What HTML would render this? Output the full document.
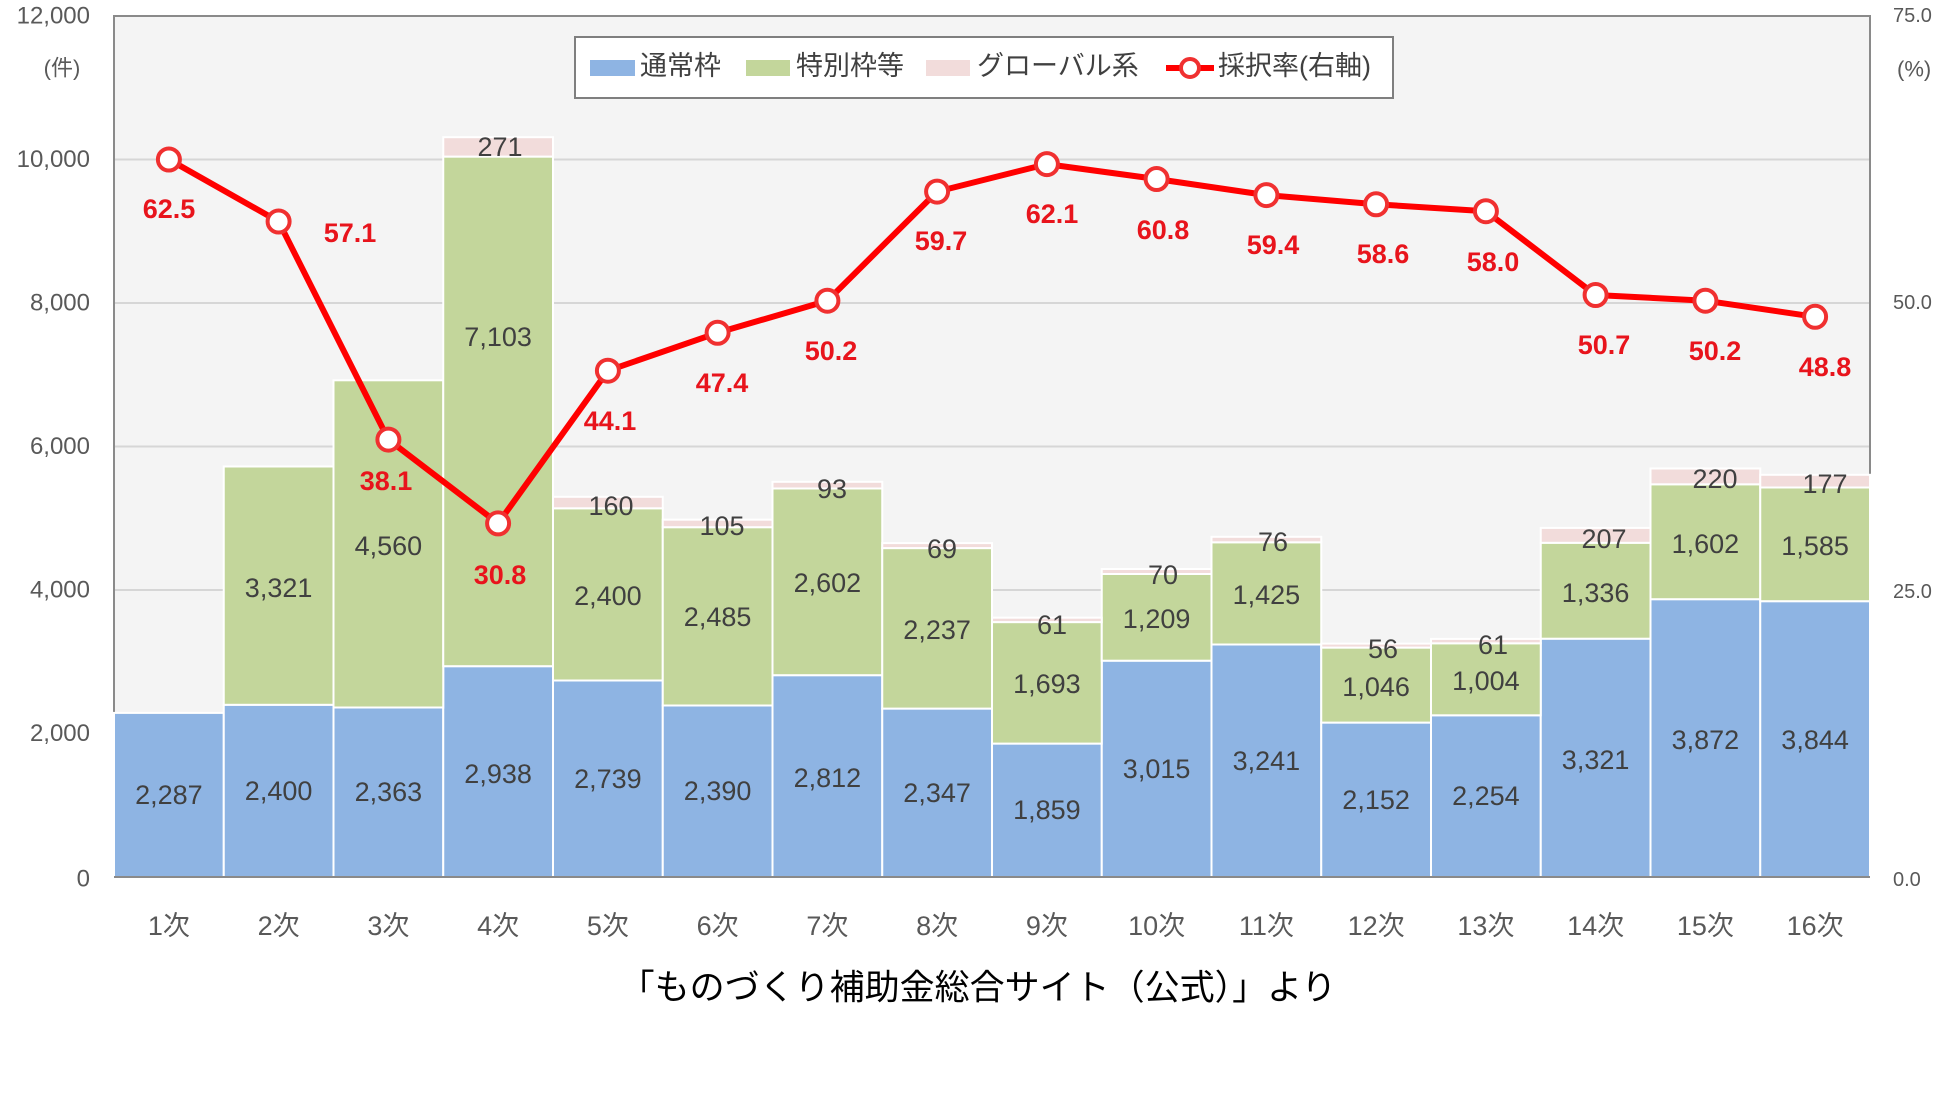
<!DOCTYPE html>
<html><head><meta charset="utf-8"><style>
html,body{margin:0;padding:0;background:#fff;width:1949px;height:1095px;overflow:hidden}
svg{display:block}
text{font-family:"Liberation Sans","Noto Sans CJK JP",sans-serif}
</style></head><body>
<svg width="1949" height="1095" viewBox="0 0 1949 1095" xmlns="http://www.w3.org/2000/svg">
<rect x="114" y="16" width="1756" height="861" fill="#f4f4f4"/>
<g stroke="#d6d6d6" stroke-width="2">
<line x1="114" y1="733.5" x2="1870" y2="733.5"/><line x1="114" y1="590" x2="1870" y2="590"/>
<line x1="114" y1="446.5" x2="1870" y2="446.5"/><line x1="114" y1="303" x2="1870" y2="303"/>
<line x1="114" y1="159.5" x2="1870" y2="159.5"/>
</g>
<rect x="114" y="16" width="1756" height="861" fill="none" stroke="#8a8a8a" stroke-width="2"/>
<g stroke="#fff" stroke-width="2">
<g fill="#8eb4e3">
<rect x="114" y="712.9" width="109.75" height="164.1"/>
<rect x="223.75" y="704.8" width="109.75" height="172.2"/>
<rect x="333.5" y="707.5" width="109.75" height="169.5"/>
<rect x="443.25" y="666.2" width="109.75" height="210.8"/>
<rect x="553" y="680.5" width="109.75" height="196.5"/>
<rect x="662.75" y="705.5" width="109.75" height="171.5"/>
<rect x="772.5" y="675.2" width="109.75" height="201.8"/>
<rect x="882.25" y="708.6" width="109.75" height="168.4"/>
<rect x="992" y="743.6" width="109.75" height="133.4"/>
<rect x="1101.75" y="660.7" width="109.75" height="216.3"/>
<rect x="1211.5" y="644.5" width="109.75" height="232.5"/>
<rect x="1321.25" y="722.6" width="109.75" height="154.4"/>
<rect x="1431" y="715.3" width="109.75" height="161.7"/>
<rect x="1540.75" y="638.7" width="109.75" height="238.3"/>
<rect x="1650.5" y="599.2" width="109.75" height="277.8"/>
<rect x="1760.25" y="601.2" width="109.75" height="275.8"/>
</g>
<g fill="#c3d69b">
<rect x="223.75" y="466.5" width="109.75" height="238.3"/>
<rect x="333.5" y="380.3" width="109.75" height="327.2"/>
<rect x="443.25" y="156.6" width="109.75" height="509.6"/>
<rect x="553" y="508.3" width="109.75" height="172.2"/>
<rect x="662.75" y="527.2" width="109.75" height="178.3"/>
<rect x="772.5" y="488.5" width="109.75" height="186.7"/>
<rect x="882.25" y="548.1" width="109.75" height="160.5"/>
<rect x="992" y="622.1" width="109.75" height="121.5"/>
<rect x="1101.75" y="574" width="109.75" height="86.7"/>
<rect x="1211.5" y="542.3" width="109.75" height="102.2"/>
<rect x="1321.25" y="647.6" width="109.75" height="75"/>
<rect x="1431" y="643.3" width="109.75" height="72"/>
<rect x="1540.75" y="542.8" width="109.75" height="95.9"/>
<rect x="1650.5" y="484.3" width="109.75" height="114.9"/>
<rect x="1760.25" y="487.5" width="109.75" height="113.7"/>
</g>
<g fill="#f2dcdb">
<rect x="443.25" y="137.2" width="109.75" height="19.4"/>
<rect x="553" y="496.8" width="109.75" height="11.5"/>
<rect x="662.75" y="519.7" width="109.75" height="7.5"/>
<rect x="772.5" y="481.8" width="109.75" height="6.7"/>
<rect x="882.25" y="543.1" width="109.75" height="5"/>
<rect x="992" y="617.7" width="109.75" height="4.4"/>
<rect x="1101.75" y="569" width="109.75" height="5"/>
<rect x="1211.5" y="536.8" width="109.75" height="5.5"/>
<rect x="1321.25" y="643.6" width="109.75" height="4"/>
<rect x="1431" y="638.9" width="109.75" height="4.4"/>
<rect x="1540.75" y="527.9" width="109.75" height="14.9"/>
<rect x="1650.5" y="468.5" width="109.75" height="15.8"/>
<rect x="1760.25" y="474.8" width="109.75" height="12.7"/>
</g>
</g>
<line x1="114" y1="877" x2="1870" y2="877" stroke="#8a8a8a" stroke-width="2"/>
<g font-size="27" fill="#404040" text-anchor="middle" dominant-baseline="central">
<text x="168.9" y="795">2,287</text><text x="278.6" y="791">2,400</text><text x="388.4" y="792">2,363</text><text x="498.1" y="774">2,938</text>
<text x="607.9" y="779">2,739</text><text x="717.6" y="791">2,390</text><text x="827.4" y="778">2,812</text><text x="937.1" y="793">2,347</text>
<text x="1046.9" y="810">1,859</text><text x="1156.6" y="769">3,015</text><text x="1266.4" y="761">3,241</text><text x="1376.1" y="800">2,152</text>
<text x="1485.9" y="796">2,254</text><text x="1595.6" y="760">3,321</text><text x="1705.4" y="740">3,872</text><text x="1815.1" y="740">3,844</text>
<text x="278.6" y="588">3,321</text><text x="388.4" y="546">4,560</text><text x="498.1" y="337">7,103</text><text x="607.9" y="596">2,400</text>
<text x="717.6" y="617">2,485</text><text x="827.4" y="583">2,602</text><text x="937.1" y="630">2,237</text><text x="1046.9" y="684">1,693</text>
<text x="1156.6" y="619">1,209</text><text x="1266.4" y="595">1,425</text><text x="1376.1" y="687">1,046</text><text x="1485.9" y="681">1,004</text>
<text x="1595.6" y="593">1,336</text><text x="1705.4" y="544">1,602</text><text x="1815.1" y="546">1,585</text>
<text x="500" y="147">271</text><text x="611" y="506">160</text><text x="722" y="526">105</text><text x="832" y="489">93</text>
<text x="942" y="549">69</text><text x="1052" y="625">61</text><text x="1163" y="575">70</text><text x="1273" y="542">76</text>
<text x="1383" y="649">56</text><text x="1493" y="645">61</text><text x="1604" y="539">207</text><text x="1715" y="479">220</text><text x="1825" y="484">177</text>
</g>
<polyline fill="none" stroke="#ff0000" stroke-width="6" stroke-linejoin="round" points="168.9,159.5 278.6,221.5 388.4,439.6 498.1,523.4 607.9,370.7 717.6,332.8 827.4,300.7 937.1,191.6 1046.9,164.1 1156.6,179 1266.4,195.1 1376.1,204.3 1485.9,211.2 1595.6,295 1705.4,300.7 1815.1,316.8"/>
<g fill="#fff" stroke="#f03030" stroke-width="4">
<circle cx="168.9" cy="159.5" r="11"/><circle cx="278.6" cy="221.5" r="11"/><circle cx="388.4" cy="439.6" r="11"/><circle cx="498.1" cy="523.4" r="11"/>
<circle cx="607.9" cy="370.7" r="11"/><circle cx="717.6" cy="332.8" r="11"/><circle cx="827.4" cy="300.7" r="11"/><circle cx="937.1" cy="191.6" r="11"/>
<circle cx="1046.9" cy="164.1" r="11"/><circle cx="1156.6" cy="179" r="11"/><circle cx="1266.4" cy="195.1" r="11"/><circle cx="1376.1" cy="204.3" r="11"/>
<circle cx="1485.9" cy="211.2" r="11"/><circle cx="1595.6" cy="295" r="11"/><circle cx="1705.4" cy="300.7" r="11"/><circle cx="1815.1" cy="316.8" r="11"/>
</g>
<g font-size="27" font-weight="bold" fill="#e8141c" text-anchor="middle" dominant-baseline="central">
<text x="169" y="209">62.5</text><text x="350" y="233">57.1</text><text x="386" y="481">38.1</text><text x="500" y="575">30.8</text>
<text x="610" y="421">44.1</text><text x="722" y="383">47.4</text><text x="831" y="351">50.2</text><text x="941" y="241">59.7</text>
<text x="1052" y="214">62.1</text><text x="1163" y="230">60.8</text><text x="1273" y="245">59.4</text><text x="1383" y="254">58.6</text>
<text x="1493" y="262">58.0</text><text x="1604" y="345">50.7</text><text x="1715" y="351">50.2</text><text x="1825" y="367">48.8</text>
</g>
<g font-size="24" fill="#595959" text-anchor="end" dominant-baseline="central">
<text x="90" y="16">12,000</text><text x="90" y="159.5">10,000</text><text x="90" y="303">8,000</text><text x="90" y="446.5">6,000</text>
<text x="90" y="590">4,000</text><text x="90" y="733.5">2,000</text><text x="90" y="879">0</text>
</g>
<text x="62" y="68" font-size="22" fill="#595959" text-anchor="middle" dominant-baseline="central">(件)</text>
<g font-size="20" fill="#595959" dominant-baseline="central">
<text x="1893" y="16">75.0</text><text x="1893" y="303">50.0</text><text x="1893" y="592">25.0</text><text x="1893" y="880">0.0</text>
<text x="1897" y="69" font-size="22">(%)</text>
</g>
<g font-size="27" fill="#595959" text-anchor="middle" dominant-baseline="central">
<text x="168.9" y="926">1次</text><text x="278.6" y="926">2次</text><text x="388.4" y="926">3次</text><text x="498.1" y="926">4次</text>
<text x="607.9" y="926">5次</text><text x="717.6" y="926">6次</text><text x="827.4" y="926">7次</text><text x="937.1" y="926">8次</text>
<text x="1046.9" y="926">9次</text><text x="1156.6" y="926">10次</text><text x="1266.4" y="926">11次</text><text x="1376.1" y="926">12次</text>
<text x="1485.9" y="926">13次</text><text x="1595.6" y="926">14次</text><text x="1705.4" y="926">15次</text><text x="1815.1" y="926">16次</text>
</g>
<rect x="575" y="37" width="818" height="61" fill="#fff" stroke="#7f7f7f" stroke-width="2"/>
<rect x="590" y="60" width="45" height="16" fill="#8eb4e3"/>
<rect x="746" y="60" width="44" height="16" fill="#c3d69b"/>
<rect x="926" y="60" width="44" height="16" fill="#f2dcdb"/>
<line x1="1166" y1="68" x2="1214" y2="68" stroke="#ff0000" stroke-width="6"/>
<circle cx="1190" cy="68" r="9" fill="#fff" stroke="#f03030" stroke-width="4"/>
<g font-size="27" fill="#404040" dominant-baseline="central">
<text x="640" y="66">通常枠</text><text x="796" y="66">特別枠等</text><text x="977" y="66">グローバル系</text><text x="1218" y="66">採択率(右軸)</text>
</g>
<text x="978" y="988" font-size="35" fill="#000" text-anchor="middle" dominant-baseline="central">「ものづくり補助金総合サイト（公式）」より</text>
</svg>
</body></html>
